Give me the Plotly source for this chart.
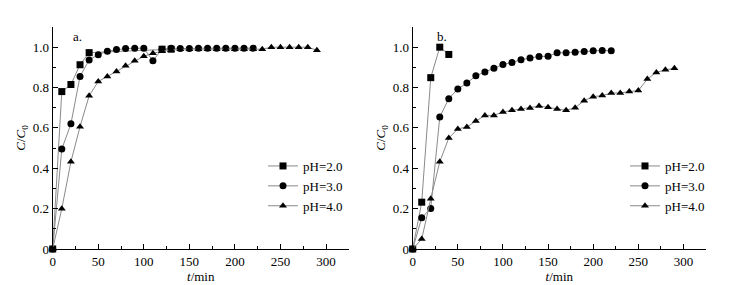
import plotly.graph_objects as go

# ---------- data ----------
t_a_ph2 = [0, 10, 20, 30, 40, 120, 130]
c_a_ph2 = [0, 0.78, 0.815, 0.913, 0.973, 0.99, 0.99]
t_a_ph3 = [0, 10, 20, 30, 40, 50, 60, 70, 80, 90, 100, 110, 120, 130, 140, 150,
           160, 170, 180, 190, 200, 210, 220]
c_a_ph3 = [0, 0.495, 0.62, 0.855, 0.937, 0.963, 0.98, 0.988, 0.993, 0.995, 0.995,
           0.933, 0.99, 0.995, 0.993, 0.993, 0.995, 0.995, 0.995, 0.995, 0.995, 0.995, 0.995]
t_a_ph4 = [0, 10, 20, 30, 40, 50, 60, 70, 80, 90, 100, 110, 120, 130, 140, 150,
           160, 170, 180, 190, 200, 210, 220, 230, 240, 250, 260, 270, 280, 290]
c_a_ph4 = [0, 0.2, 0.432, 0.606, 0.759, 0.83, 0.855, 0.88, 0.908, 0.933, 0.955,
           0.97, 0.98, 0.985, 0.99, 0.99, 0.99, 0.99, 0.99, 0.99, 0.99, 0.99, 0.99,
           0.99, 1.0, 1.0, 1.0, 1.0, 1.0, 0.985]

t_b_ph2 = [0, 10, 20, 30, 40]
c_b_ph2 = [0, 0.232, 0.849, 1.0, 0.964]
t_b_ph3 = [0, 10, 20, 30, 40, 50, 60, 70, 80, 90, 100, 110, 120, 130, 140, 150,
           160, 170, 180, 190, 200, 210, 220]
c_b_ph3 = [0, 0.155, 0.201, 0.654, 0.745, 0.793, 0.822, 0.858, 0.877, 0.896, 0.914,
           0.924, 0.938, 0.946, 0.954, 0.955, 0.972, 0.973, 0.975, 0.978, 0.982, 0.984, 0.982]
t_b_ph4 = [0, 10, 20, 30, 40, 50, 60, 70, 80, 90, 100, 110, 120, 130, 140, 150,
           160, 170, 180, 190, 200, 210, 220, 230, 240, 250, 260, 270, 280, 290]
c_b_ph4 = [0, 0.049, 0.249, 0.432, 0.55, 0.595, 0.605, 0.634, 0.662, 0.662, 0.679,
           0.687, 0.694, 0.699, 0.708, 0.702, 0.694, 0.687, 0.70, 0.735, 0.755, 0.76,
           0.773, 0.773, 0.78, 0.785, 0.842, 0.875, 0.888, 0.895]

series_names = ["pH=2.0", "pH=3.0", "pH=4.0"]
symbols = ["square", "circle", "triangle-up"]
y_tickvals = [0, 0.2, 0.4, 0.6, 0.8, 1.0]
y_ticktext = ["0", "0.2", "0.4", "0.6", "0.8", "1.0"]
x_tickvals = [0, 50, 100, 150, 200, 250, 300]
panel_labels = ["a.", "b."]

FONT = "Times New Roman, Liberation Serif, Tinos, serif"
OFF = 8  # page body margin of the html page
W, H = 739 - OFF, 285 - OFF
TOP, BOT = 19, 36
PH = H - TOP - BOT

fig = go.Figure()

panels = [
    [(t_a_ph2, c_a_ph2), (t_a_ph3, c_a_ph3), (t_a_ph4, c_a_ph4)],
    [(t_b_ph2, c_b_ph2), (t_b_ph3, c_b_ph3), (t_b_ph4, c_b_ph4)],
]
for p, data in enumerate(panels):
    xa = "x" if p == 0 else "x2"
    ya = "y" if p == 0 else "y2"
    lg = "legend" if p == 0 else "legend2"
    for (tt, cc), nm, sym in zip(data, series_names, symbols):
        fig.add_trace(go.Scatter(
            x=tt, y=cc, name=nm, mode="lines+markers",
            xaxis=xa, yaxis=ya, legend=lg,
            line=dict(color="#8a8a8a", width=1),
            marker=dict(symbol=sym, size=7, color="black"),
            cliponaxis=False,
        ))

dom_a = [(52.7 - OFF) / W, (348.8 - OFF) / W]
dom_b = [(412.7 - OFF) / W, (706.0 - OFF) / W]

axis_common = dict(
    showline=True, linecolor="black", linewidth=1, mirror=False,
    ticks="inside", ticklen=5, tickcolor="black", tickwidth=1,
    showgrid=False, zeroline=False,
    tickfont=dict(family=FONT, size=13, color="black"),
)
xaxis_common = dict(axis_common, range=[0, 325], tickvals=x_tickvals,
                    minor=dict(dtick=25, tick0=0, ticks="inside", ticklen=3, tickcolor="black"),
                    title=dict(text="<i>t</i>/min", font=dict(family=FONT, size=13, color="black"), standoff=3))
yaxis_common = dict(axis_common, range=[0, 1.1], tickvals=y_tickvals, ticktext=y_ticktext,
                    minor=dict(dtick=0.1, tick0=0, ticks="inside", ticklen=3, tickcolor="black"),
                    title=dict(text="<i>C</i>/<i>C</i><sub>0</sub>", font=dict(family=FONT, size=13, color="black"), standoff=4))

leg_common = dict(
    font=dict(family=FONT, size=13, color="black"),
    bgcolor="rgba(0,0,0,0)", borderwidth=0,
    xanchor="left", yanchor="top", itemwidth=30, tracegroupgap=0,
)
leg_top = 1 - (143 - TOP) / PH

fig.update_layout(
    width=W, height=H,
    margin=dict(l=0, r=0, t=TOP, b=BOT, autoexpand=False),
    plot_bgcolor="white", paper_bgcolor="white",
    xaxis=dict(xaxis_common, domain=dom_a, anchor="y"),
    yaxis=dict(yaxis_common, domain=[0, 1], anchor="x"),
    xaxis2=dict(xaxis_common, domain=dom_b, anchor="y2"),
    yaxis2=dict(yaxis_common, domain=[0, 1], anchor="x2"),
    legend=dict(leg_common, x=255 / W, y=leg_top),
    legend2=dict(leg_common, x=617 / W, y=leg_top),
    showlegend=True,
)

for p, (lab, xpos) in enumerate(zip(panel_labels, [0.063, 0.076])):
    fig.add_annotation(
        text=lab, xref=("x domain" if p == 0 else "x2 domain"),
        yref=("y domain" if p == 0 else "y2 domain"),
        x=xpos, y=1.0, xanchor="left", yanchor="top", showarrow=False,
        font=dict(family=FONT, size=13, color="black"),
    )

fig.write_html("out.html")
